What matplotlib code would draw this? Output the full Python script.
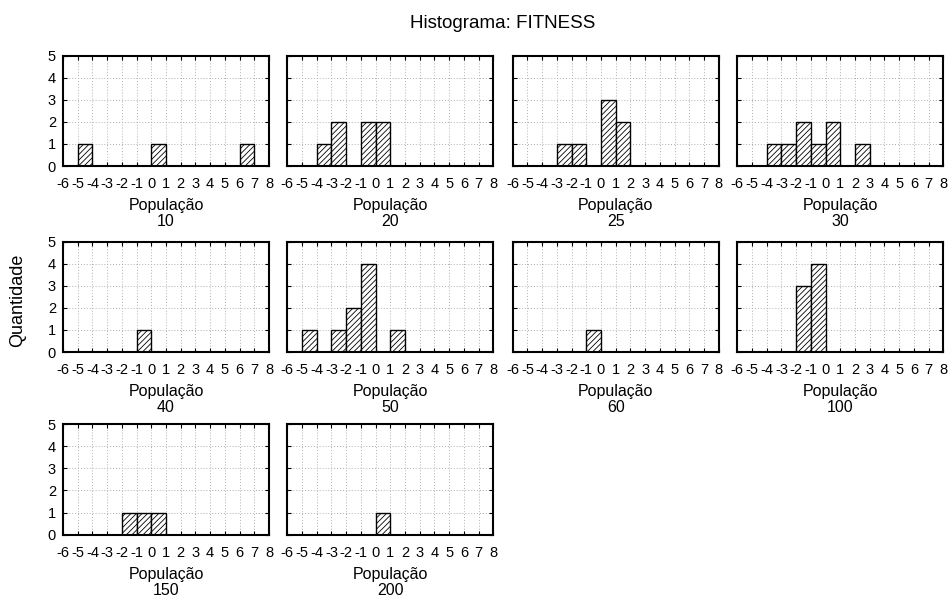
import matplotlib
matplotlib.use("Agg")
import matplotlib.pyplot as plt

plt.rcParams['font.family'] = ['Liberation Sans', 'DejaVu Sans']
plt.rcParams['hatch.linewidth'] = 0.6

populations = [10, 20, 25, 30, 40, 50, 60, 100, 150, 200]
# left edges of bins (bin width 1) and counts for each population
bin_lefts = {
    10: [-5, 0, 6],
    20: [-4, -3, -1, 0],
    25: [-3, -2, 0, 1],
    30: [-4, -3, -2, -1, 0, 2],
    40: [-1],
    50: [-5, -3, -2, -1, 1],
    60: [-1],
    100: [-2, -1],
    150: [-2, -1, 0],
    200: [0],
}
counts = {
    10: [1, 1, 1],
    20: [1, 2, 2, 2],
    25: [1, 1, 3, 2],
    30: [1, 1, 2, 1, 2, 1],
    40: [1],
    50: [1, 1, 2, 4, 1],
    60: [1],
    100: [3, 4],
    150: [1, 1, 1],
    200: [1],
}
x_ticks = list(range(-6, 9))
y_ticks = [0, 1, 2, 3, 4, 5]

W, H = 950, 597
fig = plt.figure(figsize=(W / 100, H / 100), dpi=100)

col_left = [63, 287.3, 512.7, 737.3]
ax_w = 206
row_top = [55.7, 241.7, 424.3]
ax_h = 110.3

for i, pop in enumerate(populations):
    r, c = divmod(i, 4)
    left = col_left[c] / W
    bottom = 1 - (row_top[r] + ax_h) / H
    ax = fig.add_axes([left, bottom, ax_w / W, ax_h / H])
    ax.bar(bin_lefts[pop], counts[pop], width=1, align='edge',
           facecolor='white', edgecolor='black', hatch='//////', linewidth=1.0,
           zorder=3)
    ax.set_xlim(-6, 8)
    ax.set_ylim(0, 5)
    ax.set_xticks(x_ticks)
    ax.set_xticklabels([str(t) for t in x_ticks], fontsize=10.5)
    ax.set_yticks(y_ticks)
    if c == 0:
        ax.set_yticklabels([str(t) for t in y_ticks], fontsize=10.5)
    else:
        ax.set_yticklabels([])
    ax.tick_params(axis='both', direction='in', length=3, width=0.8,
                   top=True, right=True)
    ax.tick_params(axis='x', pad=8)
    ax.tick_params(axis='y', pad=5)
    ax.grid(True, linestyle=(0, (1, 2)), color='#b0b0b0', linewidth=0.7, zorder=0)
    for s in ax.spines.values():
        s.set_linewidth(1.5)
        s.set_zorder(4)
    ax.set_xlabel("População\n%d" % pop, fontsize=11.5, labelpad=5, linespacing=1.1)

fig.text(503 / W, 1 - 23 / H, "Histograma: FITNESS", ha='center', va='center', fontsize=13.5)
fig.text(18 / W, 1 - 300 / H, "Quantidade", ha='center', va='center', rotation=90, fontsize=13)

fig.savefig("out.png", dpi=100)
